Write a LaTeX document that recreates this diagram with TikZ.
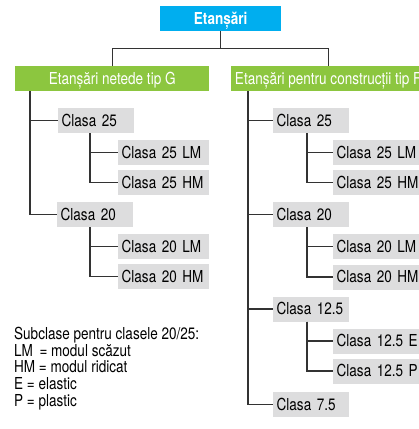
\documentclass[tikz,border=0pt]{standalone}
\usepackage{fontspec}
\setmainfont{TeX Gyre Heros}[FakeStretch=0.82]
\definecolor{cyanbox}{HTML}{00AEEF}
\definecolor{greenbox}{HTML}{8CC63F}
\definecolor{graybox}{HTML}{DDDDDE}
\definecolor{linecol}{HTML}{333333}
\begin{document}
\begin{tikzpicture}[x=1pt,y=-1pt,
  every node/.style={font=\fontsize{16.5}{16.7}\selectfont},
  graybx/.style={fill=graybox, anchor=west, minimum height=25pt, text height=11.5pt, text depth=0pt, inner ysep=0pt, inner xsep=3.5pt, align=left},
  wsm/.style={text width=69pt},
  wlg/.style={text width=84pt},
  hdr/.style={fill=greenbox, text=white, minimum width=194pt, minimum height=25pt, text height=11.5pt, text depth=0pt, inner sep=0pt, anchor=north west},
  conn/.style={draw=linecol, line width=1.2pt},
  legend/.style={anchor=base west, inner sep=0pt}]
\useasboundingbox (0,0) rectangle (419,429);
\clip (0,0) rectangle (419,429);

\node[fill=cyanbox, text=white, font=\fontsize{16.5}{16.7}\selectfont\bfseries, minimum width=121pt, minimum height=25pt, text height=11.5pt, text depth=0pt, inner sep=0pt, anchor=north west] (top) at (160,6) {Etanșări};

\node[hdr] (gL) at (15,66) {Etanșări netede tip G};
\node[hdr] (gR) at (231,66) {Etanșări pentru construcții tip F};

% left column
\node[graybx,wsm] (a25) at (58,120.5) {Clasa 25};
\node[graybx,wlg] (a25lm) at (118,152.5) {Clasa 25 LM};
\node[graybx,wlg] (a25hm) at (118,182.5) {Clasa 25 HM};
\node[graybx,wsm] (a20) at (57,214.5) {Clasa 20};
\node[graybx,wlg] (a20lm) at (118,246.5) {Clasa 20 LM};
\node[graybx,wlg] (a20hm) at (118,276.5) {Clasa 20 HM};

% right column
\node[graybx,wsm] (b25) at (273,120.5) {Clasa 25};
\node[graybx,wlg] (b25lm) at (333,152.5) {Clasa 25 LM};
\node[graybx,wlg] (b25hm) at (333,182.5) {Clasa 25 HM};
\node[graybx,wsm] (b20) at (273,214.5) {Clasa 20};
\node[graybx,wlg] (b20lm) at (333,246.5) {Clasa 20 LM};
\node[graybx,wlg] (b20hm) at (333,277) {Clasa 20 HM};
\node[graybx,wsm] (b125) at (273,309) {Clasa 12.5};
\node[graybx,wlg] (b125e) at (333,341) {Clasa 12.5 E};
\node[graybx,wlg] (b125p) at (333,371) {Clasa 12.5 P};
\node[graybx,wsm] (b75) at (273,404.5) {Clasa 7.5};

% connectors
\draw[conn] (top.south) -- ++(0,17) coordinate (j) -| (gL.north);
\draw[conn] (j) -| (gR.north);

\draw[conn] ([xshift=15pt]gL.south west) |- (a25.west);
\draw[conn] ([xshift=15pt]gL.south west) |- (a20.west);
\draw[conn] ([xshift=32pt]a25.south west) |- (a25lm.west);
\draw[conn] ([xshift=32pt]a25.south west) |- (a25hm.west);
\draw[conn] ([xshift=33pt]a20.south west) |- (a20lm.west);
\draw[conn] ([xshift=33pt]a20.south west) |- (a20hm.west);

\draw[conn] ([xshift=17pt]gR.south west) |- (b25.west);
\draw[conn] ([xshift=17pt]gR.south west) |- (b20.west);
\draw[conn] ([xshift=17pt]gR.south west) |- (b125.west);
\draw[conn] ([xshift=17pt]gR.south west) |- (b75.west);
\draw[conn] ([xshift=34pt]b25.south west) |- (b25lm.west);
\draw[conn] ([xshift=34pt]b25.south west) |- (b25hm.west);
\draw[conn] ([xshift=34pt]b20.south west) |- (b20lm.west);
\draw[conn] ([xshift=34pt]b20.south west) |- (b20hm.west);
\draw[conn] ([xshift=34pt]b125.south west) |- (b125e.west);
\draw[conn] ([xshift=34pt]b125.south west) |- (b125p.west);

% legend
\node[legend] (l1) at (14,339) {Subclase pentru clasele 20/25:};
\node[legend] (l2) at (14,356) {LM \,= modul scăzut};
\node[legend] (l3) at (14,372.5) {HM = modul ridicat};
\node[legend] (l4) at (14,389) {E = elastic};
\node[legend] (l5) at (14,406) {P = plastic};
\end{tikzpicture}
\end{document}
